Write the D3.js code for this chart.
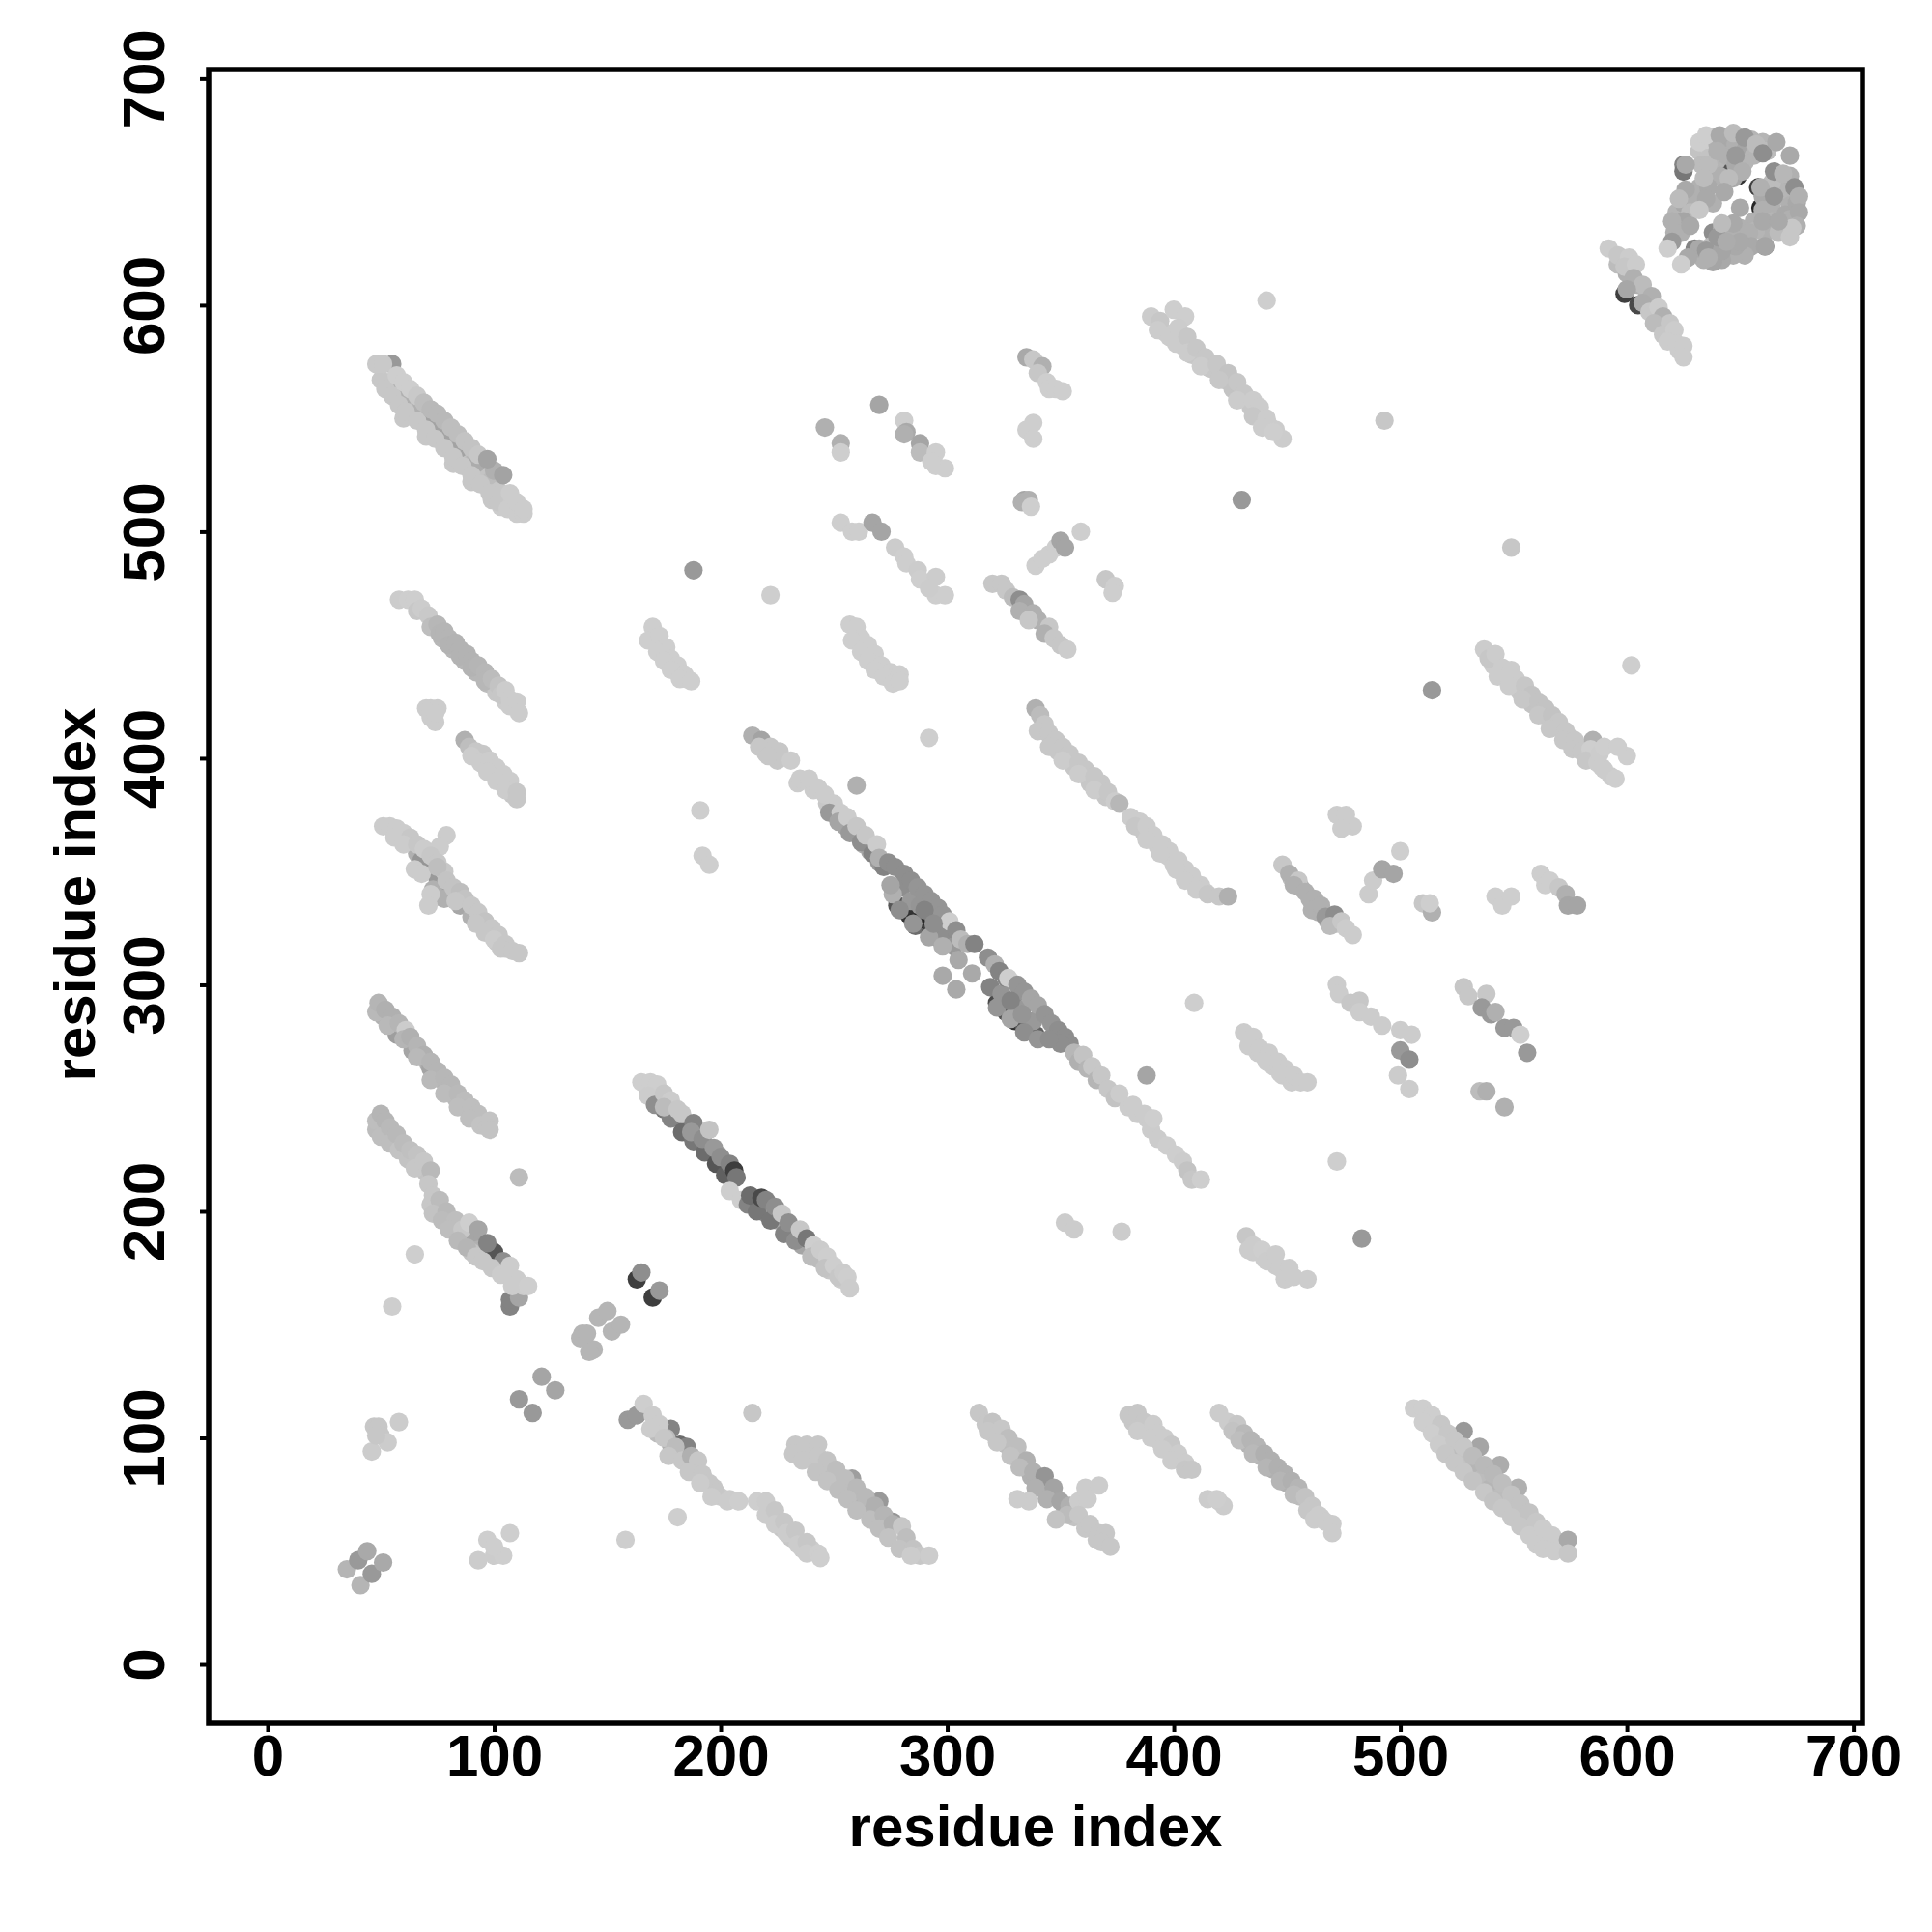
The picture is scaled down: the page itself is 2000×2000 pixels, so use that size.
<!DOCTYPE html>
<html><head><meta charset="utf-8">
<script src="https://cdnjs.cloudflare.com/ajax/libs/d3/7.8.5/d3.min.js"></script>
<style>html,body{margin:0;background:#fff}svg{display:block}text{font-family:"Liberation Sans",Arial,sans-serif;font-weight:bold;fill:#000}</style>
</head><body><svg width="2000" height="2000"></svg>
<script>
// each contact: [residue i, residue j, score]
const tickValues=[0,100,200,300,400,500,600,700];
const axisTitle="residue index";
const fillA=[[60,550,.2],[70,542,.2],[82,530,.2],[90,522,.2],[99,514,.2],[103,511,.18],[54,566,.3],[58,562,.25],[62,558,.3],[66,554,.25],[70,550,.22],[74,546,.3],[78,542,.25],[82,538,.3],[86,534,.22],[90,530,.28],[94,526,.22],[98,522,.25],[102,518,.2],[106,514,.2]];
const fillB=[[73,458,.25],[77,453,.27],[82,448,.27],[87,443,.27],[92,438,.27],[97,433,.25],[101,429,.2],[105,425,.18]];
const fillD=[[93,400,.2],[96,397,.2],[99,395,.2],[103,391,.2],[106,387,.2],[108,384,.2]];
const fillE=[[56,367,.2],[60,364,.2],[66,358,.3],[69,356,.25],[72,352,.35],[76,350,.25],[80,343,.3],[84,339,.25],[88,335,.25],[92,331,.22],[95,326,.2],[98,323,.2],[101,319,.2],[105,316,.2]];
const fillF=[[51,286,.3],[54,284,.28],[57,281,.3],[60,279,.3],[65,271,.28],[68,268,.3],[71,265,.3],[74,261,.28],[77,258,.28],[80,254,.27],[83,250,.26],[86,247,.25],[89,244,.24],[92,241,.24],[96,239,.22],[50,290,.28]];
const fillG=[[50,237,.25],[53,234,.25],[56,231,.25],[60,227,.24],[63,223,.22],[67,220,.22],[70,217,.22],[74,202,.22],[77,200,.25],[81,195,.25],[84,191,.26],[87,188,.3],[90,186,.35],[93,183,.3],[97,179,.25],[101,176,.2],[105,173,.2],[109,169,.18]];
const fillH=[[172,451,.17],[175,446,.17],[178,442,.17],[181,438,.17],[185,435,.17],[260,453,.17],[263,449,.17],[266,445,.17],[269,442,.17],[273,438,.17],[277,436,.17]];
const fillP=[[343,412,.2],[346,408,.2],[349,403,.2],[353,400,.2],[356,396,.2],[360,393,.2],[363,389,.2],[367,386,.2],[370,383,.2],[384,372,.18],[387,367,.2],[390,364,.18],[393,361,.18],[397,357,.18],[400,353,.18],[403,350,.18],[407,346,.18],[410,344,.18],[414,341,.18]];
const fillUp=[[541,441,.18],[547,435,.2],[553,429,.2],[558,424,.22],[563,419,.22],[569,414,.22],[574,410,.2],[579,405,.2],[584,400,.2],[589,396,.18],[593,392,.18],[396,588,.18],[400,586,.18],[404,582,.2],[408,578,.2],[412,576,.2],[416,572,.2],[422,567,.22],[426,563,.22],[430,559,.2],[434,555,.2],[438,551,.18],[442,547,.18],[596,618,.25],[600,614,.3],[605,609,.3],[609,604,.28],[614,596,.25],[618,590,.2],[620,586,.18],[623,580,.18],[452,347,.25],[456,343,.3],[460,338,.3],[464,332,.3],[468,328,.3],[472,327,.2],[434,275,.18],[437,270,.18],[440,268,.18],[444,264,.18],[448,260,.18],[452,257,.18],[435,182,.18],[440,179,.18],[445,176,.18],[450,173,.18]];
const fillLow=[[168,254,.25],[172,250,.35],[176,248,.3],[180,243,.35],[184,240,.3],[190,233,.35],[195,228,.4],[199,225,.35],[203,219,.45],[216,205,.4],[220,199,.4],[225,196,.35],[231,190,.35],[236,185,.35],[243,179,.25],[248,174,.2],[253,170,.18]];
const fillMainA=[[220,402,.2],[225,399,.2],[234,389,.18],[241,386,.18],[247,380,.2],[251,375,.3],[255,370,.35],[259,367,.3],[263,362,.3],[266,359,.35],[270,354,.4]];
const fillBot=[[172,102,.25],[178,97,.3],[182,92,.25],[186,89,.25],[189,86,.22],[193,81,.2],[197,78,.2],[200,74,.18],[204,73,.18],[223,65,.2],[227,60,.2],[231,56,.2],[236,51,.18],[240,51,.18],[240,91,.2],[245,86,.22],[249,82,.24],[253,78,.25],[257,74,.28],[262,69,.3],[266,66,.3],[270,65,.3],[274,60,.28],[320,102,.2],[323,100,.22],[326,97,.25],[330,92,.25],[334,87,.3],[337,83,.3],[340,81,.3],[345,76,.3],[352,69,.28],[356,65,.22],[361,60,.2],[366,55,.2],[382,107,.2],[388,103,.18],[394,98,.18],[400,94,.18],[403,90,.18],[427,103,.22],[433,97,.28],[438,92,.28],[444,86,.3],[450,80,.3],[456,74,.25],[460,70,.2],[465,65,.18],[512,106,.18],[516,102,.2],[520,98,.22],[524,94,.25],[528,90,.22],[532,86,.28],[536,82,.25],[540,78,.28],[544,74,.25],[548,70,.22],[552,66,.22],[556,62,.2],[560,58,.2],[564,54,.18]];
const bandA=[[55,574,.4],[72,548,.36],[78,543,.36],[85,537,.36],[92,530,.32],[58,562,.3],[66,553,.3],[50,567,.2],[52,563,.2],[55,560,.2],[58,556,.2],[61,553,.2],[66,549,.2],[70,545,.2],[74,541,.2],[78,537,.2],[82,533,.2],[86,529,.2],[90,525,.2],[94,521,.2],[98,517,.2],[102,513,.2],[106,510,.18],[110,508,.18],[113,508,.18],[48,574,.19],[51,574,.19],[57,569,.17],[60,566,.17],[63,563,.17],[66,560,.19],[69,557,.24],[72,554,.26],[75,552,.26],[78,549,.26],[81,546,.24],[84,543,.24],[87,540,.22],[90,537,.22],[93,534,.2],[100,527,.3],[97,532,.36],[104,525,.36],[107,517,.18],[110,513,.18],[113,510,.18]];
const bandB=[[58,470,.18],[62,470,.17],[65,470,.17],[66,465,.2],[68,466,.18],[71,463,.19],[72,458,.24],[75,459,.27],[76,455,.28],[78,456,.28],[80,453,.28],[80,450,.29],[83,451,.29],[85,448,.29],[85,445,.29],[88,446,.29],[90,443,.29],[90,440,.29],[93,441,.28],[96,438,.27],[96,434,.27],[99,435,.25],[102,432,.22],[103,428,.2],[105,430,.18],[107,426,.18],[107,423,.18],[110,425,.18],[111,420,.18]];
const bandC=[[70,422,.18],[72,422,.18],[75,422,.18],[72,418,.18],[74,416,.18],[74,420,.18]];
const bandD=[[87,408,.3],[89,405,.24],[92,403,.2],[95,402,.2],[90,401,.18],[94,398,.18],[98,399,.18],[101,396,.18],[97,394,.18],[104,393,.18],[101,390,.18],[107,390,.18],[105,386,.18],[110,385,.2],[110,382,.2]];
const bandE=[[68,355,.42],[75,347,.4],[80,340,.38],[85,335,.34],[73,342,.3],[78,338,.3],[90,330,.3],[51,370,.18],[54,370,.18],[57,369,.18],[60,367,.18],[56,365,.18],[63,365,.2],[60,362,.18],[66,362,.2],[69,360,.18],[79,366,.18],[76,361,.18],[65,351,.18],[68,349,.18],[72,340,.18],[71,335,.18],[72,357,.2],[75,354,.2],[78,350,.2],[75,352,.24],[79,346,.22],[82,343,.22],[85,341,.24],[87,338,.22],[83,337,.2],[90,335,.2],[93,332,.2],[96,328,.22],[92,327,.2],[99,325,.2],[96,323,.2],[102,322,.2],[100,320,.18],[105,318,.2],[103,316,.2],[108,315,.2],[111,314,.2]];
const bandF=[[57,278,.38],[64,271,.35],[72,263,.36],[80,255,.32],[48,288,.26],[49,292,.28],[52,289,.3],[55,286,.3],[53,282,.26],[58,283,.28],[61,280,.18],[60,276,.28],[63,277,.3],[66,273,.28],[69,269,.3],[66,268,.26],[72,266,.28],[75,262,.28],[72,258,.26],[78,259,.27],[81,256,.27],[78,252,.25],[84,252,.26],[87,249,.25],[84,246,.24],[90,246,.24],[93,243,.24],[89,241,.24],[98,240,.22],[94,238,.22],[97,237,.22],[98,236,.22]];
const bandG=[[48,236,.25],[48,240,.24],[50,243,.28],[52,240,.28],[50,233,.24],[54,237,.26],[54,230,.24],[57,234,.26],[58,227,.22],[60,230,.25],[62,223,.22],[63,227,.23],[66,225,.22],[65,219,.2],[69,222,.2],[72,218,.26],[71,212,.2],[72,203,.2],[73,207,.2],[76,205,.25],[73,199,.22],[79,200,.26],[77,196,.25],[83,196,.24],[80,192,.24],[86,192,.2],[84,187,.26],[90,182,.22],[89,195,.17],[93,192,.35],[88,184,.28],[92,180,.2],[100,182,.7],[97,186,.5],[95,178,.2],[104,178,.45],[99,175,.2],[103,172,.18],[107,158,.5],[107,161,.5],[111,162,.35],[107,176,.18],[110,170,.18],[108,167,.18],[113,167,.18],[115,167,.17],[111,215,.25],[65,181,.17],[55,158,.17]];
const bandMid=[[163,170,.8],[165,173,.45],[170,162,.8],[173,165,.4],[139,146,.28],[144,139,.28],[142,138,.28],[146,153,.28],[150,156,.28],[152,147,.28],[156,150,.28],[138,144,.28],[141,146,.28],[111,117,.4],[117,111,.4],[121,127,.35],[127,121,.35],[35,42,.28],[41,35,.28],[40,46,.4],[46,40,.4],[44,50,.33],[51,45,.33],[46,94,.18],[47,105,.2],[49,105,.2],[50,101,.2],[53,98,.18],[58,107,.18],[48,101,.2],[93,46,.18],[97,55,.17],[100,48,.18],[104,48,.17],[107,58,.17],[100,52,.17]];
const bandMainA=[[214,410,.3],[218,408,.36],[222,405,.2],[217,405,.2],[226,403,.2],[221,401,.2],[231,399,.18],[235,391,.18],[239,391,.18],[243,387,.18],[246,384,.18],[250,380,.18],[248,376,.4],[253,376,.18],[252,372,.35],[256,374,.18],[257,367,.4],[260,370,.2],[262,363,.45],[264,366,.2],[267,358,.5],[269,362,.18],[272,352,.5],[270,356,.3]];
const bandMainB=[[278,335,.7],[283,331,.85],[286,326,.6],[289,329,.9],[293,324,.8],[297,320,.6],[280,343,.45],[276,340,.3],[284,337,.4],[288,335,.42],[294,330,.4],[299,322,.45],[303,317,.4],[274,354,.45],[277,352,.45],[281,349,.45],[284,346,.45],[287,343,.42],[290,340,.42],[293,337,.42],[296,334,.42],[298,331,.42],[301,328,.17],[304,324,.45],[306,320,.25],[309,318,.3],[312,318,.5],[298,304,.33],[304,298,.33],[305,311,.33],[311,305,.33]];
const bandMainC=[[322,292,.75],[326,288,.7],[330,284,.85],[334,281,.7],[339,278,.65],[319,299,.5],[324,296,.42],[329,292,.45],[333,289,.4],[338,284,.4],[318,312,.45],[321,309,.3],[323,306,.5],[326,303,.5],[327,303,.17],[331,300,.42],[334,297,.42],[337,294,.35],[340,291,.35],[343,287,.42],[346,283,.42],[349,280,.45],[352,277,.45],[354,274,.45],[350,274,.45],[356,270,.27],[358,266,.3],[360,269,.22],[362,263,.28],[364,264,.2],[366,258,.28],[368,260,.2],[371,254,.2],[374,250,.22],[376,252,.18],[380,246,.18],[384,243,.18],[388,241,.18],[390,236,.18],[393,232,.18],[397,229,.17],[401,225,.17],[404,222,.18],[406,218,.22],[408,214,.2],[412,214,.17],[409,292,.17],[388,260,.35],[260,388,.3]];
const mainEdge=[[279,333,.45],[285,327,.42],[292,321,.35],[298,317,.3],[322,290,.42],[328,285,.35],[334,279,.45],[340,276,.42],[345,276,.45],[275,344,.35],[290,333,.5],[294,327,.45],[328,293,.5],[333,287,.42]];
const bandLow=[[175,245,.55],[178,241,.5],[183,235,.6],[188,231,.55],[193,226,.6],[198,221,.7],[202,216,.65],[165,257,.17],[169,257,.17],[172,256,.17],[168,251,.18],[171,247,.45],[175,252,.2],[178,249,.18],[175,246,.25],[181,245,.2],[183,243,.2],[188,239,.5],[187,235,.4],[192,232,.45],[195,236,.22],[197,228,.4],[200,224,.45],[204,221,.5],[206,218,.8],[207,215,.55],[204,209,.17],[209,205,.17],[212,203,.5],[216,200,.55],[213,207,.6],[218,206,.75],[220,205,.5],[222,196,.55],[224,202,.45],[227,199,.2],[228,190,.5],[230,195,.45],[233,187,.45],[235,192,.2],[238,188,.55],[241,185,.17],[240,180,.25],[244,183,.18],[247,180,.17],[246,175,.22],[250,176,.17],[252,171,.2],[254,173,.18],[256,171,.17],[257,166,.18]];
const bandH=[[170,458,.17],[168,452,.17],[173,454,.17],[176,449,.17],[172,447,.17],[178,444,.17],[175,443,.17],[181,441,.17],[178,439,.17],[184,437,.17],[182,435,.17],[187,434,.17],[188,483,.4],[222,472,.17],[191,377,.17],[192,357,.17],[195,353,.17],[292,409,.17]];
const bandI=[[257,459,.17],[260,458,.17],[262,453,.17],[258,452,.17],[265,450,.17],[262,447,.17],[268,446,.17],[265,443,.17],[271,441,.17],[268,439,.17],[275,438,.17],[272,436,.17],[279,437,.17],[276,433,.17],[279,434,.17]];
const bandJ=[[246,546,.3],[253,539,.3],[253,535,.17],[270,556,.35],[281,549,.17],[282,544,.33],[281,543,.3],[288,539,.35],[288,535,.25],[295,535,.17],[295,529,.17],[299,528,.17],[293,531,.17],[253,504,.17],[258,500,.17],[261,500,.17],[267,504,.35],[271,500,.35],[277,493,.18],[281,489,.17],[282,486,.17],[287,483,.18],[288,479,.17],[295,480,.18],[295,472,.17],[299,472,.17],[292,475,.18]];
const bandL=[[320,477,.2],[324,477,.2],[326,474,.2],[329,471,.25],[332,470,.45],[334,468,.35],[332,465,.3],[338,464,.3],[340,461,.3],[336,461,.2],[345,458,.2],[343,455,.3],[347,453,.2],[350,450,.2],[353,448,.18]];
const bandM=[[335,577,.33],[338,576,.2],[342,573,.3],[340,570,.2],[344,566,.17],[345,563,.17],[348,563,.17],[351,562,.17],[335,545,.17],[338,548,.17],[338,541,.17],[334,514,.35],[333,513,.3],[336,514,.3],[337,511,.17],[339,485,.17],[342,488,.17],[345,490,.17],[348,493,.17],[350,496,.35],[352,493,.35],[359,500,.17],[370,479,.2],[374,476,.17],[373,473,.17],[441,602,.17],[430,514,.4],[493,549,.2],[549,493,.2],[514,430,.4],[602,441,.17]];
const bandP=[[339,422,.3],[341,419,.25],[343,415,.2],[340,412,.2],[345,411,.2],[348,408,.2],[345,405,.2],[351,405,.2],[354,402,.2],[351,399,.18],[358,398,.2],[361,395,.2],[358,393,.18],[365,392,.2],[368,389,.2],[365,386,.18],[371,385,.2],[374,381,.18],[376,380,.27],[381,374,.18],[385,372,.18],[383,370,.2],[388,370,.18],[391,366,.18],[388,364,.18],[395,362,.18],[398,359,.18],[394,358,.18],[402,355,.18],[405,351,.18],[401,351,.18],[408,348,.18],[405,346,.18],[412,344,.18],[410,342,.18],[415,340,.2],[420,339,.2],[424,339,.3]];
const bandBot1=[[159,108,.4],[163,110,.4],[166,115,.17],[178,104,.5],[182,97,.6],[185,96,.5],[176,100,.25],[170,110,.18],[173,106,.18],[169,104,.18],[175,100,.2],[180,96,.25],[177,92,.2],[183,90,.2],[187,92,.3],[190,90,.2],[186,85,.2],[192,84,.2],[195,80,.2],[191,80,.18],[198,76,.2],[196,74,.18],[203,72,.18],[208,72,.17],[214,111,.2],[158,55,.17],[181,65,.17],[216,72,.17],[220,72,.18],[220,66,.18],[224,68,.2],[224,62,.18],[228,63,.2],[229,58,.18],[233,59,.2],[234,53,.18],[238,54,.2],[238,49,.18],[243,49,.17],[244,47,.17]];
const bandBot3=[[258,82,.38],[270,72,.4],[276,63,.42],[233,97,.2],[238,97,.2],[243,97,.2],[232,93,.2],[236,90,.2],[243,92,.2],[247,90,.22],[242,85,.22],[251,86,.24],[247,81,.22],[255,82,.24],[252,77,.24],[260,78,.26],[256,73,.24],[264,74,.26],[260,68,.24],[268,70,.3],[266,64,.24],[272,66,.28],[270,60,.24],[276,62,.3],[274,56,.22],[280,61,.2],[282,56,.24],[279,51,.22],[285,51,.22],[288,48,.2],[292,48,.18],[284,48,.18]];
const bandBot4=[[314,111,.2],[317,106,.2],[320,107,.22],[318,103,.2],[324,104,.2],[327,100,.24],[322,98,.2],[331,96,.24],[328,92,.22],[335,90,.3],[332,87,.25],[338,85,.3],[343,83,.42],[339,78,.3],[347,78,.36],[344,73,.3],[336,72,.18],[331,73,.18],[350,72,.35],[354,70,.3],[353,66,.25],[348,64,.22],[358,72,.18],[361,78,.18],[367,79,.18],[362,73,.18],[358,66,.2],[363,62,.2],[367,58,.2],[370,58,.2],[368,54,.2],[372,52,.2]];
const bandBot5=[[380,110,.2],[384,111,.2],[387,107,.2],[384,103,.18],[391,106,.18],[393,102,.18],[390,100,.18],[396,100,.18],[399,97,.2],[395,95,.18],[402,93,.18],[399,90,.18],[405,89,.18],[405,86,.2],[408,86,.2],[415,73,.18],[420,72,.18],[422,70,.18],[419,73,.17]];
const bandBot6=[[420,111,.18],[424,107,.18],[428,106,.2],[426,103,.22],[431,102,.26],[429,99,.24],[434,99,.28],[437,96,.28],[435,93,.26],[440,93,.3],[443,90,.3],[441,87,.28],[446,87,.3],[449,84,.3],[447,81,.28],[452,81,.3],[455,78,.28],[453,75,.25],[458,74,.22],[461,70,.2],[459,68,.2],[464,66,.18],[462,64,.18],[467,63,.18],[470,62,.18],[470,58,.18]];
const bandBot8=[[528,103,.4],[535,96,.35],[544,88,.32],[552,78,.3],[506,113,.17],[510,113,.17],[514,110,.17],[510,107,.17],[518,106,.2],[514,102,.17],[521,102,.2],[517,97,.18],[524,99,.2],[520,93,.2],[528,96,.2],[524,89,.2],[532,92,.25],[528,85,.2],[537,88,.26],[532,81,.22],[541,84,.26],[537,76,.2],[545,80,.24],[541,72,.22],[549,75,.22],[545,69,.2],[553,71,.22],[549,65,.2],[557,67,.22],[553,61,.2],[560,63,.2],[557,57,.18],[563,60,.18],[560,53,.18],[567,57,.18],[563,51,.18],[570,53,.18],[574,55,.33],[568,50,.18],[574,49,.2]];
const bandUp9=[[585,408,.3],[537,448,.18],[539,444,.2],[542,446,.18],[545,440,.18],[543,436,.18],[549,439,.18],[551,435,.18],[548,432,.18],[555,432,.2],[558,428,.22],[554,426,.2],[561,425,.22],[564,422,.22],[561,419,.2],[567,419,.22],[570,416,.2],[566,413,.2],[573,412,.2],[572,408,.2],[577,408,.2],[576,404,.2],[580,403,.2],[584,404,.17],[582,399,.2],[587,398,.18],[590,395,.18],[588,402,.18],[595,391,.17],[590,405,.17],[600,401,.17],[596,405,.17]];
const bandUp10=[[448,353,.2],[451,349,.3],[455,346,.2],[453,344,.3],[458,341,.3],[462,338,.3],[461,333,.3],[465,335,.3],[467,330,.4],[471,331,.45],[469,326,.25],[474,328,.2],[476,325,.18],[479,322,.18],[472,375,.18],[476,375,.18],[479,370,.18],[474,369,.18],[486,340,.18],[488,346,.18],[492,351,.35],[497,349,.35],[500,359,.17],[510,336,.2],[514,332,.3],[513,336,.17],[542,339,.17],[545,335,.17],[549,339,.17],[562,349,.17],[564,344,.17],[566,346,.17],[570,343,.2],[573,340,.3],[574,335,.35],[578,335,.35]];
const bandUp12=[[431,279,.18],[435,277,.18],[433,273,.18],[438,272,.18],[442,270,.18],[441,266,.18],[446,266,.18],[449,263,.18],[447,261,.18],[453,260,.18],[456,257,.18],[459,257,.18],[472,300,.18],[473,296,.18],[478,292,.2],[482,293,.2],[482,288,.18],[487,286,.18],[492,282,.18],[500,280,.18],[505,278,.18],[500,271,.4],[504,267,.45],[499,260,.18],[504,254,.18],[528,299,.2],[530,295,.2],[538,296,.2],[536,290,.4],[540,287,.4],[542,288,.3],[546,281,.4],[550,281,.4],[553,278,.17],[556,270,.4],[535,253,.25],[538,253,.3],[546,246,.3],[432,189,.2],[435,185,.18],[433,183,.18],[439,183,.17],[441,178,.18],[445,181,.18],[447,175,.18],[451,175,.18],[449,170,.18],[453,171,.18],[459,170,.18],[352,195,.18],[356,192,.18],[377,191,.18],[483,188,.4],[472,222,.17],[382,247,.18],[387,243,.18],[391,241,.17]];
const bandUp18=[[390,595,.18],[394,593,.2],[393,589,.18],[400,598,.17],[405,595,.17],[398,586,.18],[402,590,.18],[401,583,.18],[406,586,.2],[406,579,.18],[410,581,.2],[414,577,.2],[412,573,.18],[419,574,.2],[424,570,.22],[420,567,.2],[428,566,.2],[431,561,.2],[428,558,.18],[435,558,.18],[438,555,.18],[435,551,.2],[441,550,.18],[439,546,.18],[445,545,.18],[448,541,.18],[444,544,.17]];
const bandUp19=[[599,605,.8],[605,600,.75],[613,592,.5],[592,625,.18],[596,622,.2],[601,621,.18],[599,617,.2],[604,618,.18],[603,612,.3],[607,609,.25],[611,604,.3],[600,607,.34],[607,601,.32],[610,597,.2],[614,599,.18],[616,595,.3],[612,592,.25],[619,592,.2],[616,587,.2],[621,589,.18],[618,584,.18],[622,583,.18],[625,582,.18],[625,577,.18]];
const clusterDark=[[643,661,.8],[644,658,.7],[649,657,.85],[658,652,.8],[659,643,.9],[661,626,.6],[625,662,.5],[625,659,.55],[622,635,.5],[623,640,.45],[630,625,.5],[640,625,.5],[638,632,.45]];
const clusterFill=[[632,668,.22],[636,670,.17],[640,671,.3],[644,671,.33],[648,671,.3],[652,668,.35],[656,666,.28],[636,665,.22],[640,664,.28],[644,666,.3],[648,662,.33],[652,663,.28],[633,662,.25],[637,658,.28],[641,657,.3],[647,656,.33],[660,672,.28],[662,668,.25],[655,673,.28],[669,654,.28],[664,654,.25],[672,657,.3],[660,648,.33],[664,643,.3],[669,648,.28],[672,644,.3],[660,642,.3],[664,637,.28],[670,640,.33],[656,637,.3],[661,632,.3],[667,632,.25],[672,630,.2],[657,633,.28],[675,645,.33],[672,638,.3],[622,641,.28],[625,645,.33],[629,648,.3],[632,652,.3],[636,652,.33],[628,641,.25],[625,637,.35],[624,632,.3],[620,637,.3],[621,632,.3],[638,645,.3],[642,634,.33],[646,632,.3],[650,634,.3],[654,632,.3],[655,626,.33],[652,622,.3],[647,622,.3],[642,620,.33],[638,619,.35],[634,620,.3],[632,625,.33],[637,626,.25],[643,628,.3],[648,626,.33]];
const clusterMid=[[632,672,.17],[635,675,.17],[641,675,.33],[647,676,.25],[652,674,.4],[657,671,.25],[660,667,.45],[666,672,.33],[672,666,.33],[626,662,.33],[636,662,.25],[634,656,.25],[648,666,.4],[640,668,.3],[651,659,.3],[645,656,.25],[665,659,.45],[669,658,.27],[674,652,.45],[676,648,.3],[659,652,.3],[665,648,.42],[676,641,.33],[675,635,.3],[673,634,.2],[660,637,.33],[667,637,.33],[661,626,.35],[650,643,.33],[643,650,.33],[635,647,.33],[626,651,.33],[623,647,.25],[632,642,.2],[628,635,.33],[620,628,.4],[618,625,.17],[627,621,.33],[624,618,.17],[635,624,.4],[642,624,.35],[640,630,.4],[636,621,.3],[650,628,.33],[647,636,.33],[642,636,.25],[644,628,.32]];
const allContacts=[].concat(fillA,fillB,fillD,fillE,fillF,fillG,fillH,fillP,fillUp,fillLow,fillMainA,fillBot,bandA,bandB,bandC,bandD,bandE,bandF,bandG,bandMid,bandMainA,bandMainB,bandMainC,mainEdge,bandLow,bandH,bandI,bandJ,bandL,bandM,bandP,bandBot1,bandBot3,bandBot4,bandBot5,bandBot6,bandBot8,bandUp9,bandUp10,bandUp12,bandUp18,bandUp19,clusterDark,clusterFill,clusterMid);

const svg=d3.select("svg");
const x=d3.scaleLinear().domain([-26,704]).range([216,1928]);
const y=d3.scaleLinear().domain([-26,704]).range([1784,72]);
const shade=d3.scaleLinear().domain([0,1]).range(["#f5f5f5","#101010"]);

svg.append("g").selectAll("circle").data(allContacts).join("circle")
  .attr("cx",d=>x(d[0])).attr("cy",d=>y(d[1])).attr("r",9.6).attr("fill",d=>shade(d[2]));

const gx=svg.append("g").attr("transform","translate(0,1784)")
  .call(d3.axisBottom(x).tickValues(tickValues).tickSize(9).tickPadding(5).tickSizeOuter(0));
const gy=svg.append("g").attr("transform","translate(216,0)")
  .call(d3.axisLeft(y).tickValues(tickValues).tickSize(9).tickPadding(5).tickSizeOuter(0));
[gx,gy].forEach(g=>{
  g.select(".domain").remove();
  g.selectAll("line").attr("stroke","#000").attr("stroke-width",4);
  g.selectAll("text").attr("font-family",null);
});
gx.selectAll("text").style("font-size","60px").attr("y",null).attr("dy",null).attr("text-anchor","middle")
  .attr("transform","translate(0,54)");
gy.selectAll("text").style("font-size","62px").attr("x",null).attr("dy",null).attr("text-anchor","middle")
  .attr("transform",function(){return "translate(-46,"+0+") rotate(-90)";});

svg.append("rect").attr("x",216).attr("y",72).attr("width",1712).attr("height",1712)
  .attr("fill","none").attr("stroke","#000").attr("stroke-width",5.5);
svg.append("text").attr("x",1072).attr("y",1911).attr("text-anchor","middle").style("font-size","60px").text(axisTitle);
svg.append("text").attr("transform","translate(98,926) rotate(-90)").attr("text-anchor","middle").style("font-size","60px").text(axisTitle);
</script></body></html>
